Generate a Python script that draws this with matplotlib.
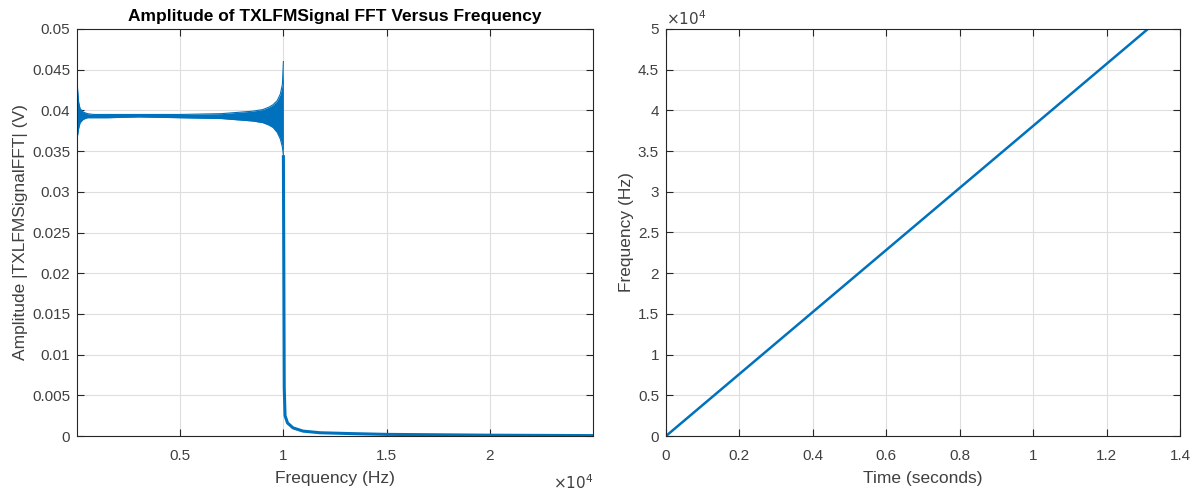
import matplotlib
matplotlib.use("Agg")
import matplotlib.pyplot as plt
from matplotlib.ticker import FuncFormatter

plt.rcParams['font.family'] = ['Liberation Sans', 'DejaVu Sans']

# ---- Left panel: FFT amplitude envelope ----
band_freq = [0, 30, 80, 150, 300, 500, 800, 1500, 3000, 5000, 7000, 8000,
             8500, 9000, 9300, 9500, 9700, 9850, 9950, 10000]
band_upper = [0.0440, 0.0425, 0.0410, 0.0402, 0.0398, 0.0396, 0.0395, 0.0395,
              0.0395, 0.0395, 0.0396, 0.0398, 0.0399, 0.0401, 0.0404, 0.0407,
              0.0412, 0.0420, 0.0432, 0.0460]
band_lower = [0.0365, 0.0370, 0.0378, 0.0385, 0.0389, 0.0391, 0.0391, 0.0391,
              0.0392, 0.0391, 0.0390, 0.0388, 0.0387, 0.0385, 0.0382, 0.0379,
              0.0373, 0.0365, 0.0355, 0.0345]
tail_freq = [10000, 10040, 10080, 10200, 10465, 10950, 11773, 13227, 15000,
             20000, 25000]
tail_amp = [0.0345, 0.0060, 0.0025, 0.0016, 0.0010, 0.0006, 0.0004, 0.0003,
            0.0002, 0.0001, 0.00005]

# ---- Right panel: instantaneous frequency ----
chirp_time = [0.0, 1.3125]
chirp_freq = [0.0, 50000.0]

# tick values / labels
left_xticks = [5000, 10000, 15000, 20000]
left_yticks = [0, 0.005, 0.01, 0.015, 0.02, 0.025, 0.03, 0.035, 0.04, 0.045, 0.05]
right_xticks = [0, 0.2, 0.4, 0.6, 0.8, 1.0, 1.2, 1.4]
right_yticks = [0, 5000, 10000, 15000, 20000, 25000, 30000, 35000, 40000, 45000, 50000]

BLUE = '#0072BD'
AX = '#262626'
TXT = '#404040'
GRID = '#dedede'

fig = plt.figure(figsize=(11.99, 4.92), dpi=100)
ax1 = fig.add_axes([77/1199, 1-436/492, (593-77)/1199, (436-29)/492])
ax2 = fig.add_axes([666/1199, 1-436/492, (1180-666)/1199, (436-29)/492])

def style(ax):
    ax.grid(True, color=GRID, linewidth=0.8)
    ax.set_axisbelow(True)
    for s in ax.spines.values():
        s.set_color(AX)
        s.set_linewidth(0.8)
    ax.tick_params(direction='in', length=5, width=0.8, colors=AX,
                   labelcolor=TXT, labelsize=11, top=True, right=True)
    ax.tick_params(axis='x', pad=9)
    ax.tick_params(axis='y', pad=5)

# left
ax1.fill_between(band_freq, band_lower, band_upper, color=BLUE, linewidth=0)
ax1.plot(band_freq, band_upper, color=BLUE, lw=0.8)
ax1.plot(band_freq, band_lower, color=BLUE, lw=0.8)
ax1.plot(tail_freq, tail_amp, color=BLUE, lw=2.2, solid_capstyle='butt')
ax1.set_xlim(0, 25000)
ax1.set_ylim(0, 0.05)
ax1.set_xticks(left_xticks)
ax1.set_yticks(left_yticks)
ax1.xaxis.set_major_formatter(FuncFormatter(lambda v, p: '%g' % (v / 1e4)))
ax1.yaxis.set_major_formatter(FuncFormatter(lambda v, p: '%g' % v))
style(ax1)
ax1.set_xlabel('Frequency (Hz)', fontsize=12.5, color=TXT, labelpad=6)
ax1.set_ylabel('Amplitude |TXLFMSignalFFT| (V)', fontsize=12.5, color=TXT, labelpad=3)
ax1.set_title('Amplitude of TXLFMSignal FFT Versus Frequency', fontsize=12.5,
              fontweight='bold', color='black', pad=6)
ax1.text(1.0, -0.115, r'$\times10^{4}$', transform=ax1.transAxes, ha='right',
         va='center', fontsize=11, color=TXT)

# right
ax2.plot(chirp_time, chirp_freq, color=BLUE, lw=1.8)
ax2.set_xlim(0, 1.4)
ax2.set_ylim(0, 50000)
ax2.set_xticks(right_xticks)
ax2.set_yticks(right_yticks)
ax2.xaxis.set_major_formatter(FuncFormatter(lambda v, p: '%g' % round(v, 2)))
ax2.yaxis.set_major_formatter(FuncFormatter(lambda v, p: '%g' % (v / 1e4)))
style(ax2)
ax2.set_xlabel('Time (seconds)', fontsize=12.5, color=TXT, labelpad=6)
ax2.set_ylabel('Frequency (Hz)', fontsize=12.5, color=TXT, labelpad=3)
ax2.text(0.0, 1.003, r'$\times10^{4}$', transform=ax2.transAxes, ha='left',
         va='bottom', fontsize=11, color=TXT)

fig.savefig('out.png', dpi=100)
